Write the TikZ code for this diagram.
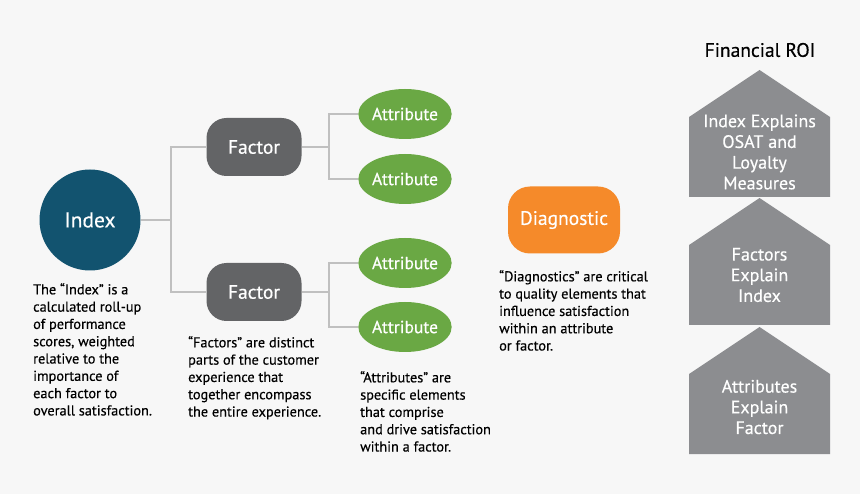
\documentclass[tikz,border=0pt]{standalone}
\usepackage{fontspec}
\setmainfont{PT Sans}[FakeBold=0.4]
\usetikzlibrary{positioning, shapes.geometric}
\definecolor{IndexTeal}{RGB}{18, 83, 111}
\definecolor{FactorGrey}{RGB}{99, 100, 102}
\definecolor{AttrGreen}{RGB}{106, 168, 68}
\definecolor{DiagOrange}{RGB}{245, 138, 42}
\definecolor{HouseGrey}{RGB}{140, 141, 144}
\definecolor{LinkGrey}{RGB}{192, 192, 192}
\definecolor{PageGrey}{RGB}{247, 247, 247}

\begin{document}
\begin{tikzpicture}[x=1pt, y=-1pt,
    link/.style={draw=LinkGrey, line width=1.6pt},
    factorbox/.style={rounded corners=20pt, fill=FactorGrey, minimum width=95pt, minimum height=58pt, text=white, font=\fontsize{19.5}{22}\selectfont},
    attrbox/.style={ellipse, fill=AttrGreen, minimum width=88pt, minimum height=50pt, inner sep=0pt, text=white, font=\fontsize{17.5}{20}\selectfont},
    note/.style={align=left, anchor=north west, inner sep=0pt, font=\fontsize{14.3}{17.3}\selectfont},
    housetext/.style={align=center, text=white, font=\fontsize{18}{20.7}\selectfont}]

        % Background (fixes the page size)
        \fill[PageGrey] (0,0) rectangle (860,494);

        % Index
        \node[circle, fill=IndexTeal, minimum size=101pt, inner sep=0pt, text=white, font=\fontsize{21.5}{24}\selectfont] (index) at (90,220) {Index};

        % Factors
        \node[factorbox] (factor1) at (254,147) {Factor};
        \node[factorbox] (factor2) at (254,292) {Factor};

        % Attributes
        \node[attrbox] (attr1) at (405,114) {Attribute};
        \node[attrbox] (attr2) at (405,179) {Attribute};
        \node[attrbox] (attr3) at (405,263) {Attribute};
        \node[attrbox] (attr4) at (405,327) {Attribute};

        % Diagnostic
        \node[rounded corners=22pt, fill=DiagOrange, minimum width=112pt, minimum height=67pt, text=white, font=\fontsize{19.5}{22}\selectfont] (diag) at (564,220) {Diagnostic};

        % Tree links
        \draw[link] (index.east) -- ++(30,0) coordinate (split0);
        \draw[link] (split0) |- (factor1.west);
        \draw[link] (split0) |- (factor2.west);
        \draw[link] (factor1.east) -- ++(27.5,0) coordinate (split1);
        \draw[link] (split1) |- (attr1.west);
        \draw[link] (split1) |- (attr2.west);
        \draw[link] (factor2.east) -- ++(27.5,0) coordinate (split2);
        \draw[link] (split2) |- (attr3.west);
        \draw[link] (split2) |- (attr4.west);

        % Notes
        \node[note] (indexnote) at (33,283) {The “Index” is a\\calculated roll-up\\of performance\\scores, weighted\\relative to the\\importance of\\each factor to\\overall satisfaction.};
        \node[note] (factornote) at (188,336) {“Factors” are distinct\\parts of the customer\\experience that\\together encompass\\the entire experience.};
        \node[note] (attrnote) at (360,371) {“Attributes” are\\specific elements\\that comprise\\and drive satisfaction\\within a factor.};
        \node[note] (diagnote) at (499,270) {“Diagnostics” are critical\\to quality elements that\\influence satisfaction\\within an attribute\\or factor.};

        % Financial ROI stack
        \node[font=\fontsize{19.5}{22}\selectfont] (roi) at (760,50) {Financial ROI};

        % #1: apex y of the house
        \newcommand{\drawHouse}[1]{
            (689,#1+127) -- (689,#1+47) -- (759.5,#1) -- (830,#1+47) -- (830,#1+127) -- cycle
        }
        \fill[HouseGrey] \drawHouse{70};
        \fill[HouseGrey] \drawHouse{198};
        \fill[HouseGrey] \drawHouse{327};

        \node[housetext] (house1) at (759.5,152) {Index Explains\\OSAT and\\Loyalty\\Measures};
        \node[housetext] (house2) at (759.5,275) {Factors\\Explain\\Index};
        \node[housetext] (house3) at (759.5,407) {Attributes\\Explain\\Factor};

    \end{tikzpicture}
\end{document}
